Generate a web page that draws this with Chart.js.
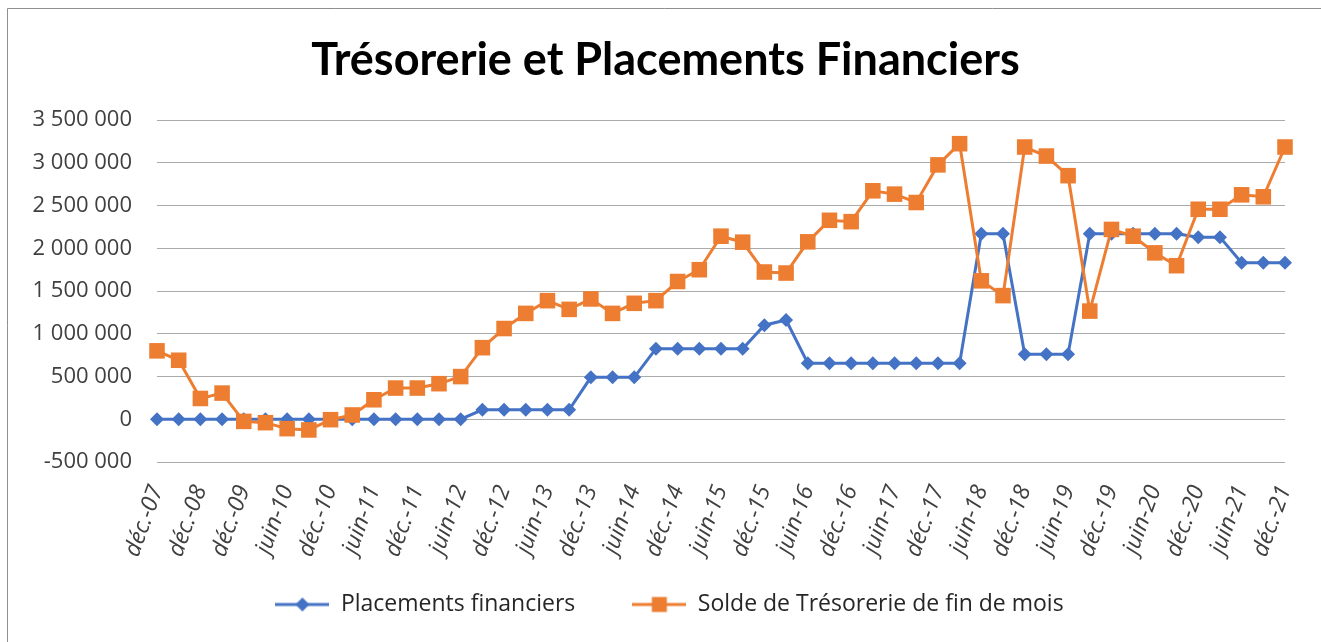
<!DOCTYPE html>
<html lang="fr">
<head>
<meta charset="utf-8">
<title>Trésorerie et Placements Financiers</title>
<script src="https://cdn.jsdelivr.net/npm/chart.js@4.4.1/dist/chart.umd.min.js"></script>
<style>
  html, body { margin: 0; padding: 0; background: #fff; }
  #wrap { width: 1321px; height: 642px; }
</style>
</head>
<body>
<div id="wrap"><canvas id="myChart" width="1321" height="642"></canvas></div>
<script>
// Données (trimestres, une étiquette sur deux affichée)
const categories = [
  'déc.-07', 'juin-08', 'déc.-08', 'juin-09', 'déc.-09', 'mars-10', 'juin-10', 'sept.-10',
  'déc.-10', 'mars-11', 'juin-11', 'sept.-11', 'déc.-11', 'mars-12', 'juin-12', 'sept.-12',
  'déc.-12', 'mars-13', 'juin-13', 'sept.-13', 'déc.-13', 'mars-14', 'juin-14', 'sept.-14',
  'déc.-14', 'mars-15', 'juin-15', 'sept.-15', 'déc.-15', 'mars-16', 'juin-16', 'sept.-16',
  'déc.-16', 'mars-17', 'juin-17', 'sept.-17', 'déc.-17', 'mars-18', 'juin-18', 'sept.-18',
  'déc.-18', 'mars-19', 'juin-19', 'sept.-19', 'déc.-19', 'mars-20', 'juin-20', 'sept.-20',
  'déc.-20', 'mars-21', 'juin-21', 'sept.-21', 'déc.-21'
];

const placements = [
  0, 0, 0, 0, 0, 0, 0, 0, 0, 0, 0, 0, 0, 0, 0,
  110000, 110000, 110000, 110000, 110000,
  490000, 490000, 490000,
  825000, 825000, 825000, 825000, 825000,
  1100000, 1160000,
  655000, 655000, 655000, 655000, 655000, 655000, 655000, 655000,
  2170000, 2170000,
  760000, 760000, 760000,
  2170000, 2170000, 2170000, 2170000, 2170000,
  2130000, 2130000,
  1830000, 1830000, 1830000
];

const solde = [
  800000, 690000, 243000, 306000, -25000, -40000, -110000, -125000,
  -5000, 50000, 228000, 365000, 365000, 416000, 499000, 837000,
  1061000, 1238000, 1387000, 1285000, 1407000, 1238000, 1356000, 1387000,
  1611000, 1749000, 2141000, 2071000, 1722000, 1710000, 2075000, 2327000,
  2311000, 2672000, 2633000, 2535000, 2975000, 3223000, 1619000, 1446000,
  3184000, 3078000, 2849000, 1265000, 2220000, 2141000, 1946000, 1796000,
  2456000, 2456000, 2625000, 2602000, 3184000
];

const yMin = -500000;
const yMax = 3500000;
const yStep = 500000;

const BLUE = '#4472C4';
const ORANGE = '#ED7D31';

// format "3 500 000"
function formatNombre(v) {
  const s = String(Math.abs(v)).replace(/\B(?=(\d{3})+(?!\d))/g, ' ');
  return (v < 0 ? '-' : '') + s;
}

// petites icônes de légende : trait + marqueur
function iconeLegende(color, forme) {
  const c = document.createElement('canvas');
  c.width = 54;
  c.height = 20;
  const g = c.getContext('2d');
  g.strokeStyle = color;
  g.lineWidth = 3;
  g.beginPath();
  g.moveTo(0, 10);
  g.lineTo(54, 10);
  g.stroke();
  g.fillStyle = color;
  g.beginPath();
  if (forme === 'losange') {
    g.moveTo(27, 3); g.lineTo(34, 10); g.lineTo(27, 17); g.lineTo(20, 10);
  } else {
    g.rect(19.5, 2.5, 15, 15);
  }
  g.closePath();
  g.fill();
  return c;
}
const iconesLegende = [iconeLegende(BLUE, 'losange'), iconeLegende(ORANGE, 'carre')];

// cadre gris (bord gauche et haut)
const cadre = {
  id: 'cadre',
  beforeDraw(chart) {
    const c = chart.ctx;
    c.save();
    c.fillStyle = '#fff';
    c.fillRect(0, 0, chart.width, chart.height);
    c.strokeStyle = '#8f8f8f';
    c.lineWidth = 1;
    c.beginPath();
    c.moveTo(7.5, chart.height);
    c.lineTo(7.5, 8.5);
    c.lineTo(chart.width, 8.5);
    c.stroke();
    c.restore();
  }
};

// recentrage du titre / de la légende, et zone des étiquettes x non coupée
const recalage = {
  id: 'recalage',
  afterLayout(chart) {
    chart.titleBlock.left += 46;
    chart.legend.left += 54;
    chart.scales.x.bottom = chart.height;
  }
};

const ctx = document.getElementById('myChart').getContext('2d');
new Chart(ctx, {
  type: 'line',
  data: {
    labels: categories,
    datasets: [{
      label: 'Placements financiers',
      data: placements,
      borderColor: BLUE,
      backgroundColor: BLUE,
      borderWidth: 3,
      pointStyle: 'rectRot',
      pointRadius: 7,
      pointHoverRadius: 7,
      pointBorderWidth: 0,
      tension: 0,
      order: 1
    }, {
      label: 'Solde de Trésorerie de fin de mois',
      data: solde,
      borderColor: ORANGE,
      backgroundColor: ORANGE,
      borderWidth: 3,
      pointStyle: 'rect',
      pointRadius: 11,
      pointHoverRadius: 11,
      pointBorderWidth: 0,
      tension: 0,
      order: 0
    }]
  },
  options: {
    responsive: false,
    animation: false,
    devicePixelRatio: 1,
    layout: {
      padding: { left: 0, right: 36, top: 0, bottom: 16 }
    },
    plugins: {
      title: {
        display: true,
        text: 'Trésorerie et Placements Financiers',
        color: '#000',
        font: { family: 'Lato', size: 45, weight: 'bold', lineHeight: 1.2 },
        padding: { top: 33, bottom: 33 }
      },
      legend: {
        position: 'bottom',
        labels: {
          usePointStyle: true,
          pointStyleWidth: 54,
          padding: 57,
          color: '#262626',
          font: { family: 'Open Sans', size: 23 },
          generateLabels: chart => {
            const items = Chart.defaults.plugins.legend.labels.generateLabels(chart);
            items.sort((a, b) => a.datasetIndex - b.datasetIndex);
            items.forEach(it => { it.pointStyle = iconesLegende[it.datasetIndex]; });
            return items;
          }
        }
      },
      tooltip: { enabled: false }
    },
    scales: {
      x: {
        type: 'category',
        offset: false,
        grid: { display: false, drawTicks: false },
        border: { display: false },
        afterFit: scale => {
          scale.height = 74;
          scale.paddingLeft = 0;
          scale.paddingRight = 0;
        },
        ticks: {
          autoSkip: false,
          minRotation: 70,
          maxRotation: 70,
          padding: 20,
          color: '#404040',
          font: { family: 'Open Sans', size: 23, style: 'italic' },
          callback: (val, i) => (i % 2 === 0 ? categories[i] : '')
        }
      },
      y: {
        min: yMin,
        max: yMax,
        grid: { color: '#ababab', lineWidth: 1, drawTicks: false },
        border: { display: false },
        afterFit: scale => { scale.width = 157; },
        ticks: {
          stepSize: yStep,
          padding: 25,
          color: '#404040',
          font: { family: 'Open Sans', size: 22 },
          callback: v => formatNombre(v)
        }
      }
    }
  },
  plugins: [cadre, recalage]
});
</script>
</body>
</html>
